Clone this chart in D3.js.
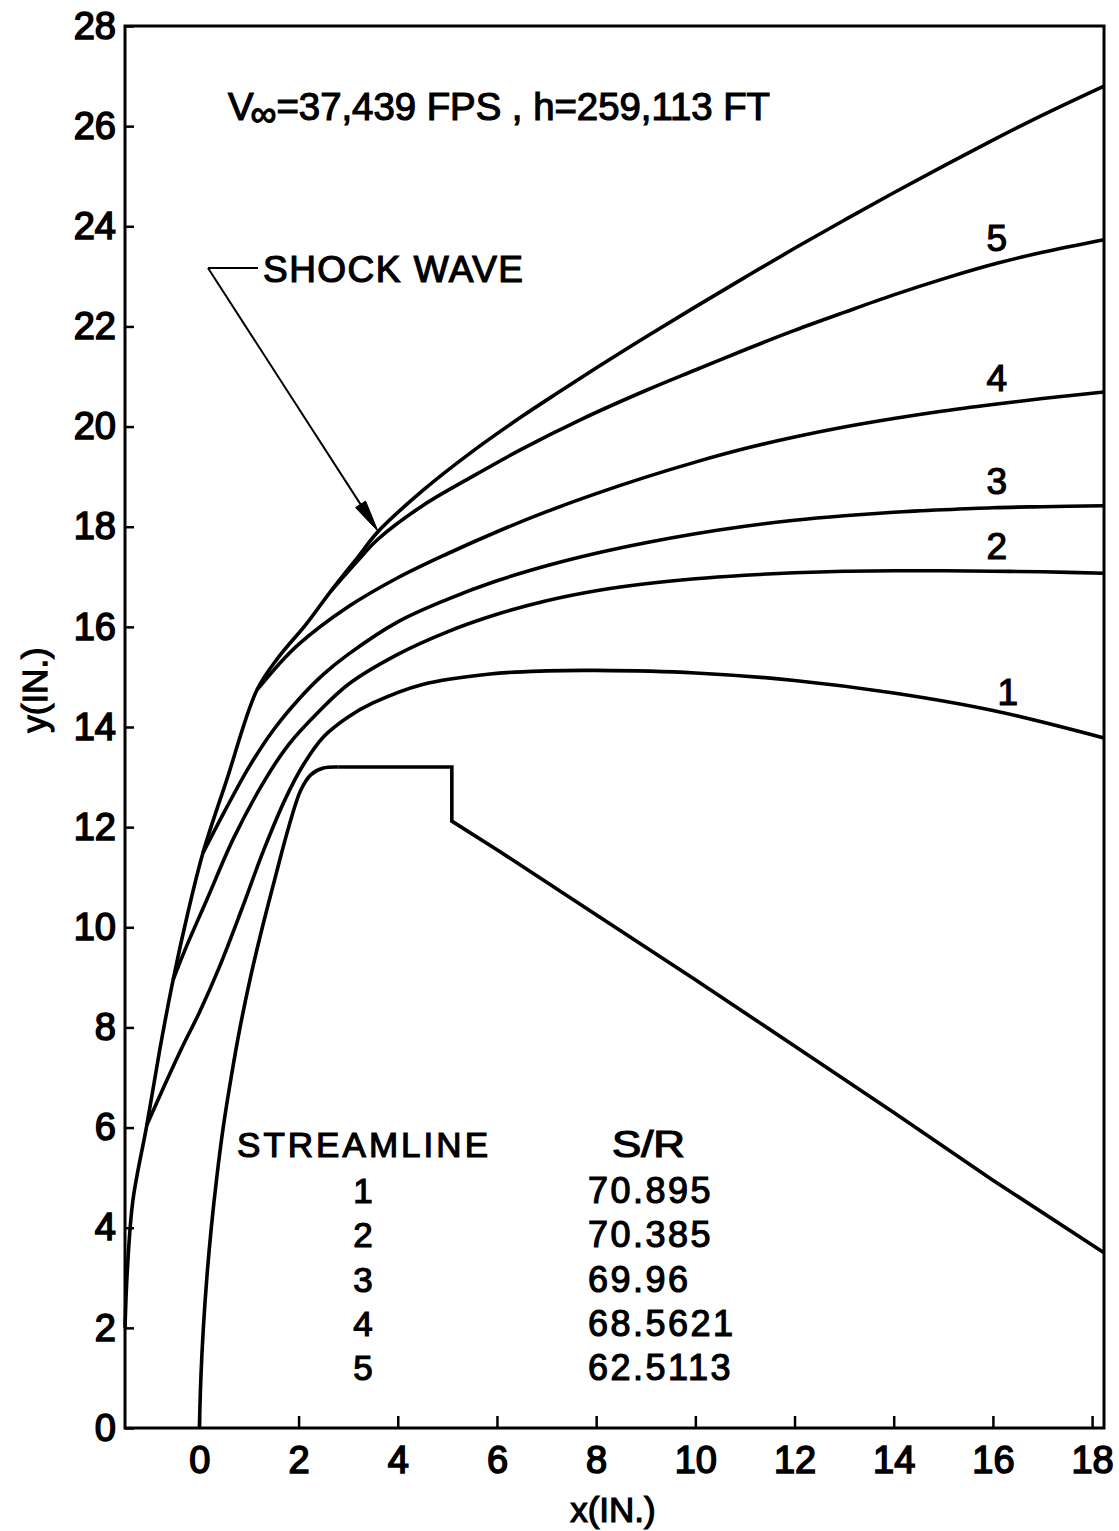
<!DOCTYPE html>
<html><head><meta charset="utf-8">
<script src="https://cdn.jsdelivr.net/npm/d3@7"></script>
<style>
body{margin:0;background:#fff;}
svg text{font-family:"Liberation Sans",Arial,sans-serif;fill:#000;stroke:#000;stroke-width:1.2px;}
</style>
</head><body>
<svg id="chart" width="1119" height="1531"></svg>
<script>
// ---- data (x, y in inches) ----
const xTicks = [0, 2, 4, 6, 8, 10, 12, 14, 16, 18];
const yTicks = [0, 2, 4, 6, 8, 10, 12, 14, 16, 18, 20, 22, 24, 26, 28];

const shockWave = [[-1.50,2.0],[-1.45,3.2],[-1.34,4.55],[-1.06,6.05],[-0.80,7.55],[-0.53,8.95],
  [-0.23,10.3],[0.07,11.48],[0.55,12.94],[1.16,14.74],[1.6,15.4],[2.15,16.05],[2.64,16.7],
  [3.2,17.4],[3.6,17.9],[4.5,18.72],[5.5,19.5],[6.5,20.2],[7.25,20.69],[8.0,21.17],[9.0,21.79],
  [10.0,22.39],[11.0,22.98],[12.0,23.56],[13.0,24.12],[14.0,24.67],[15.0,25.2],[16.0,25.72],
  [17.0,26.22],[18.24,26.8]];
const streamline5 = [[2.64,16.7],[3.2,17.33],[3.6,17.75],[4.5,18.42],[5.5,19.0],[6.5,19.55],
  [7.67,20.13],[9.0,20.72],[10.0,21.13],[11.04,21.55],[12.0,21.92],[13.0,22.28],[14.0,22.63],
  [15.0,22.95],[16.08,23.26],[17.0,23.48],[18.24,23.73]];
const streamline4 = [[1.16,14.74],[1.6,15.25],[2.0,15.65],[3.0,16.4],[4.0,16.98],[5.0,17.46],
  [6.0,17.9],[7.0,18.3],[8.0,18.66],[9.0,18.99],[10.0,19.29],[11.0,19.56],[12.0,19.79],
  [13.0,19.99],[14.0,20.16],[15.0,20.31],[16.0,20.44],[17.0,20.56],[18.24,20.69]];
const streamline3 = [[0.07,11.48],[0.5,12.3],[1.0,13.2],[1.5,13.95],[2.0,14.55],[2.5,15.05],
  [3.0,15.45],[4.0,16.1],[5.0,16.55],[6.0,16.92],[7.0,17.22],[8.0,17.47],[9.0,17.68],
  [10.0,17.86],[11.0,18.01],[12.0,18.13],[13.0,18.22],[14.0,18.29],[15.0,18.34],[16.0,18.38],
  [17.0,18.4],[18.24,18.42]];
const streamline2 = [[-0.53,8.95],[-0.29,9.55],[0.15,10.55],[0.7,11.8],[1.32,12.94],[1.8,13.65],
  [2.4,14.3],[3.0,14.85],[4.0,15.45],[5.0,15.9],[6.0,16.25],[7.0,16.52],[8.0,16.72],[9.0,16.86],
  [10.0,16.96],[11.0,17.03],[12.0,17.08],[13.0,17.11],[14.0,17.12],[15.0,17.12],[16.0,17.11],
  [17.0,17.1],[18.24,17.07]];
const streamline1 = [[-1.06,6.05],[-0.7,6.85],[-0.35,7.6],[0.0,8.3],[0.4,9.2],[0.85,10.35],
  [1.3,11.55],[1.75,12.6],[2.1,13.25],[2.5,13.8],[3.0,14.2],[3.5,14.48],[4.5,14.85],
  [5.86,15.06],[7.0,15.12],[8.0,15.13],[10.0,15.08],[12.0,14.93],[14.0,14.68],[16.0,14.33],
  [18.24,13.78]];
const bodyNose = [[0,0],[0.03,1],[0.08,2],[0.15,3],[0.24,4],[0.35,5],[0.48,6],[0.64,7],[0.82,8],
  [1.03,9],[1.27,10],[1.53,11],[1.8,12],[2.05,12.75],[2.25,13.05],[2.5,13.18],[2.8,13.2]];
const bodyAft = [[2.8,13.2],[5.09,13.2],[5.09,12.12],[6.0,11.55],[8.0,10.25],[10.0,8.95],
  [12.0,7.63],[14.0,6.3],[16.0,4.95],[18.24,3.5]];

const lineIds = ["1", "2", "3", "4", "5"];
const srValues = ["70.895", "70.385", "69.96", "68.5621", "62.5113"];
const titleMain = "=37,439 FPS , h=259,113 FT";

// ---- layout ----
const svg = d3.select("#chart");
const x = d3.scaleLinear().domain([-1.5, 18.24]).range([125, 1104]);
const y = d3.scaleLinear().domain([0, 28]).range([1428, 26]);

const line = d3.line().x(d => x(d[0])).y(d => y(d[1])).curve(d3.curveCatmullRom.alpha(0.5));
const lineLin = d3.line().x(d => x(d[0])).y(d => y(d[1]));

// axes
const gx = svg.append("g").attr("transform", "translate(0,1428)")
  .call(d3.axisBottom(x).tickValues(xTicks).tickSize(-12).tickPadding(18).tickFormat(d3.format("d")));
const gy = svg.append("g").attr("transform", "translate(125,0)")
  .call(d3.axisLeft(y).tickValues(yTicks).tickSize(-9).tickPadding(9).tickFormat(d3.format("d")));
[gx, gy].forEach(g => {
  g.select(".domain").remove();
  g.selectAll(".tick line").attr("stroke", "#000").attr("stroke-width", 2.5);
  g.selectAll(".tick text").attr("font-size", 38).style("stroke-width", "1.6px")
    .style("font-family", "'Liberation Sans',Arial,sans-serif").attr("fill", "#000");
});

// frame
svg.append("rect").attr("x", x(-1.5)).attr("y", y(28)).attr("width", x(18.24) - x(-1.5))
  .attr("height", y(0) - y(28)).attr("fill", "none").attr("stroke", "#000").attr("stroke-width", 3);

// curves
const curves = [shockWave, streamline5, streamline4, streamline3, streamline2, streamline1, bodyNose];
svg.append("g").selectAll("path").data(curves).join("path")
  .attr("d", line).attr("fill", "none").attr("stroke", "#000").attr("stroke-width", 3.6)
  .attr("stroke-linejoin", "round");
svg.append("path").attr("d", lineLin(bodyAft)).attr("fill", "none").attr("stroke", "#000")
  .attr("stroke-width", 3.6).attr("stroke-linejoin", "miter");

// streamline labels
const labelAt = [[16.3, 14.7], [16.08, 17.62], [16.08, 18.91], [16.08, 20.97], [16.08, 23.77]];
svg.append("g").selectAll("text").data(lineIds).join("text")
  .attr("x", (d, i) => x(labelAt[i][0])).attr("y", (d, i) => y(labelAt[i][1]))
  .attr("text-anchor", "middle").attr("dy", "0.36em").attr("font-size", 37).text(d => d);

// title
const t = svg.append("text").attr("x", 228).attr("y", 120).attr("font-size", 38)
  .attr("textLength", 542).attr("lengthAdjust", "spacingAndGlyphs");
t.append("tspan").text("V");
t.append("tspan").attr("dy", 6).attr("font-size", 36).attr("dx", -3).text("\u221E");
t.append("tspan").attr("dy", -6).text(titleMain);

// shock wave annotation
svg.append("text").attr("x", 263).attr("y", 282).attr("font-size", 37)
  .attr("textLength", 260).attr("lengthAdjust", "spacing").text("SHOCK WAVE");
svg.append("path").attr("d", "M258,268 L208,268").attr("fill", "none")
  .attr("stroke", "#000").attr("stroke-width", 2);
(function () {
  const tip = [x(3.6), y(17.95) + 2], from = [208, 268];
  const dx = tip[0] - from[0], dy = tip[1] - from[1], L = Math.hypot(dx, dy);
  const ux = dx / L, uy = dy / L, len = 32, hw = 6;
  const bx = tip[0] - ux * len, by = tip[1] - uy * len;
  svg.append("path").attr("d", `M${tip[0]},${tip[1]} L${bx - uy * hw},${by + ux * hw} L${bx + uy * hw},${by - ux * hw} Z`)
    .attr("fill", "#000").attr("stroke", "#000").attr("stroke-width", 1);
  svg.append("line").attr("x1", from[0]).attr("y1", from[1]).attr("x2", bx).attr("y2", by)
    .attr("stroke", "#000").attr("stroke-width", 2);
})();

// legend table
svg.append("text").attr("x", 237).attr("y", 1157).attr("font-size", 35)
  .attr("textLength", 251).attr("lengthAdjust", "spacing").text("STREAMLINE");
svg.append("text").attr("x", 612).attr("y", 1157).attr("font-size", 36)
  .attr("textLength", 73).attr("lengthAdjust", "spacingAndGlyphs").text("S/R");
const rowY = i => 1203 + i * 44.3;
svg.append("g").selectAll("text").data(lineIds).join("text")
  .attr("x", 363).attr("y", (d, i) => rowY(i)).attr("text-anchor", "middle")
  .attr("font-size", 35).text(d => d);
svg.append("g").selectAll("text").data(srValues).join("text")
  .attr("x", 588).attr("y", (d, i) => rowY(i)).attr("font-size", 36)
  .attr("letter-spacing", 2.5).text(d => d);

// axis titles
svg.append("text").attr("x", 613).attr("y", 1522).attr("text-anchor", "middle")
  .attr("font-size", 35).text("x(IN.)");
svg.append("text").attr("transform", "translate(47,690) rotate(-90)").attr("text-anchor", "middle")
  .attr("font-size", 35).text("y(IN.)");
</script>
</body></html>
